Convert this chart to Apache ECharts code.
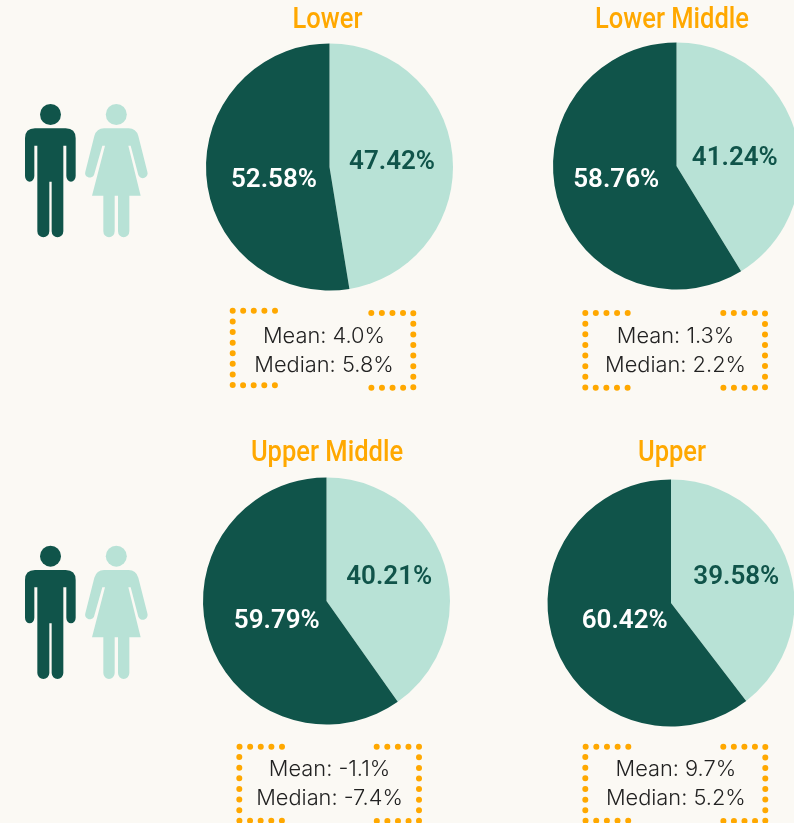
<!DOCTYPE html>
<html><head><meta charset="utf-8">
<style>html,body{margin:0;padding:0;background:#fbf9f4}#c{width:794px;height:823px}</style>
<script src="https://cdn.jsdelivr.net/npm/echarts@6/dist/echarts.min.js"></script>
</head><body><div id="c"></div>
<script>
const groups = ['Lower','Lower Middle','Upper Middle','Upper'];
const women = [47.42,41.24,40.21,39.58];
const men = [52.58,58.76,59.79,60.42];
const means = ['4.0%','1.3%','-1.1%','9.7%'];
const medians = ['5.8%','2.2%','-7.4%','5.2%'];

const DARK='#10544a', LIGHT='#b8e2d6', ORANGE='#ffa800', INK='#222222';
const FONT='Inter';
const centers=[[329.5,167],[676.5,166],[326.5,601],[671,603]];
const titleY=[21,21,454,454];
const titleX=[327.5,672,327,672];
const boxes=[[232.7,275,371.3,413.3,310.7,385.3,313,387.7],[585.3,627.7,723.3,765,313,387.7,313,387.7],[239.3,282,376.7,419,746.7,820.7,746.7,821],[585.3,628.3,723.3,765.3,746.7,820.7,746.7,821]];
const statX=[324,675.5,329.5,675.8], statY=[336,336,769,769];
const womenOff=[[-2,1],[-4,10],[1,-4],[4,-5]];
const menOff=[[9,8],[2,-3],[12,1],[15,-2]];
const MAN='M105 115H197Q227 115 227 145V258A14 17 0 0 1 199 258V167H190V424A17.5 18 0 0 1 155 424V275H148V424A18 18 0 0 1 112 424V167H103V258A14 17 0 0 1 75 258V145Q75 115 105 115Z';
const WOMAN='M312 115H386Q408 115 415 138L442 245A14 14 0 0 1 415 255L392 167H385L422 317H388V424A17 18 0 0 1 354 424V317H344V424A17 18 0 0 1 310 424V317H276L315 167H307L282 255A14 14 0 0 1 256 245L283 138Q290 115 312 115Z';

const graphic=[];
const iconKids=[];
[0,441.7].forEach(dy=>{
  iconKids.push({type:'path',x:0,y:90+dy,scaleX:1/3,scaleY:1/3,shape:{pathData:MAN},style:{fill:DARK}});
  iconKids.push({type:'circle',shape:{cx:50.5,cy:114.5+dy,r:10.5},style:{fill:DARK}});
  iconKids.push({type:'path',x:0,y:90+dy,scaleX:1/3,scaleY:1/3,shape:{pathData:WOMAN},style:{fill:LIGHT}});
  iconKids.push({type:'circle',shape:{cx:116.3,cy:114.5+dy,r:10.5},style:{fill:LIGHT}});
});
groups.forEach((g,i)=>{
  const [l,le,rs,r,t,b,t2,b2]=boxes[i];
  const dots=len=>({stroke:ORANGE,lineWidth:6,lineCap:'round',lineDash:[0,(len-0.1)/15],fill:null});
  graphic.push({type:'polyline',shape:{points:[[le,t],[l,t],[l,b],[le,b]]},style:dots(2*(le-l)+b-t)});
  graphic.push({type:'polyline',shape:{points:[[rs,t2],[r,t2],[r,b2],[rs,b2]]},style:dots(2*(r-rs)+b2-t2)});
  graphic.push({type:'text',x:statX[i],y:statY[i],style:{text:'Mean: '+means[i],fontFamily:FONT,fontSize:21.8,fontWeight:300,fill:INK,align:'center',verticalAlign:'middle'}});
  graphic.push({type:'text',x:statX[i],y:statY[i]+29.3,style:{text:'Median: '+medians[i],fontFamily:FONT,fontSize:21.8,fontWeight:300,fill:INK,align:'center',verticalAlign:'middle'}});
  graphic.push({type:'text',x:titleX[i],y:titleY[i],scaleX:0.865,style:{text:g,fontFamily:'Roboto',fontSize:29.5,fontWeight:500,fill:ORANGE,align:'center',verticalAlign:'middle'}});
});

const chart=echarts.init(document.getElementById('c'),null,{renderer:'canvas'});
chart.setOption({
  backgroundColor:'#fbf9f4',animation:false,
  graphic,
  series:groups.map((g,i)=>({
    type:'pie',center:centers[i],radius:[0,123.5],startAngle:90,clockwise:true,silent:true,
    labelLine:{show:false},
    itemStyle:{borderWidth:0},
    label:{show:true,position:'inner',fontFamily:'Roboto',fontSize:26,fontWeight:600,formatter:p=>p.value.toFixed(2)+'%'},
    labelLayout:p=>{const o=p.dataIndex===0?womenOff[i]:menOff[i];return {dx:o[0],dy:o[1]};},
    data:[
      {name:'Women',value:women[i],itemStyle:{color:LIGHT},label:{color:DARK}},
      {name:'Men',value:men[i],itemStyle:{color:DARK},label:{color:'#ffffff'}}
    ]
  })).concat([{
    type:'custom',coordinateSystem:'none',silent:true,data:[[0]],
    renderItem:()=>({type:'group',children:iconKids})
  }])
});
</script></body></html>
